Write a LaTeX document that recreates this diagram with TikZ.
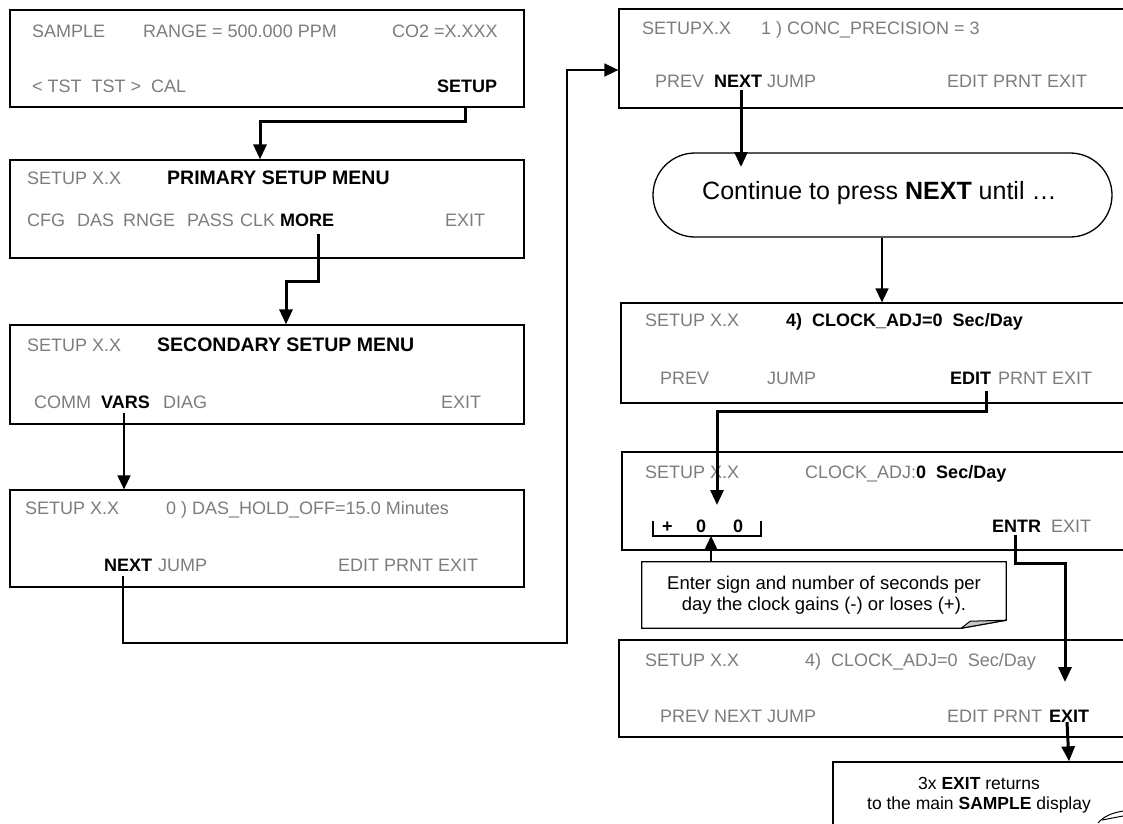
\documentclass[tikz,border=0pt]{standalone}
\usepackage{fontspec}
\setmainfont{Liberation Sans}
\usetikzlibrary{arrows.meta}
\definecolor{lcdgray}{RGB}{125,125,125}
\tikzset{
  disp/.style={draw, line width=1.3pt, inner sep=0pt, rectangle},
  gt/.style={anchor=base west, inner sep=0pt, text=lcdgray, font=\fontsize{18}{21}\selectfont},
  bt/.style={anchor=base west, inner sep=0pt, text=black, font=\fontsize{18}{21}\selectfont\bfseries},
  ht/.style={anchor=base west, inner sep=0pt, text=black, font=\fontsize{19.5}{22}\selectfont\bfseries},
  ct/.style={anchor=base, inner sep=0pt, text=black, font=\fontsize{17.5}{20}\selectfont},
  thk/.style={line width=3pt, -{Triangle[length=15pt,width=13pt]}},
  thn/.style={line width=1.5pt, -{Triangle[length=14pt,width=13pt]}},
}
\begin{document}
\begin{tikzpicture}[x=1pt,y=-1pt]
\useasboundingbox (0,0) rectangle (1123,823);
\fill[white] (0,0) rectangle (1123,823);
\clip (0,0) rectangle (1123,823);

% ---------- display boxes ----------
\node[disp, minimum width=514, minimum height=97] (b1) at (267,58.5) {};
\node[disp, minimum width=514, minimum height=98] (b2) at (267,209) {};
\node[disp, minimum width=514, minimum height=99] (b3) at (267,374.5) {};
\node[disp, minimum width=514, minimum height=97] (b4) at (267,538.5) {};
\node[disp, minimum width=516, minimum height=99] (b5) at (877,58.5) {};
\node[disp, minimum width=514, minimum height=100] (b6) at (878,353) {};
\node[disp, minimum width=513, minimum height=98] (b7) at (878.5,501) {};
\node[disp, minimum width=516, minimum height=97] (b8) at (877,688.5) {};
\node[disp, minimum width=302, minimum height=63] (b9) at (984,793.5) {};

% ---------- box 1 ----------
\node[gt] (t1a) at (32,37.5) {SAMPLE};
\node[gt] (t1b) at (143,37.5) {RANGE = 500.000 PPM};
\node[gt] (t1c) at (392,37.5) {CO2 =X.XXX};
\node[gt] (t1d) at (32,92.5) {< TST\ \ TST >\ \ CAL};
\node[bt] (t1e) at (437,92.5) {SETUP};

% ---------- box 2 ----------
\node[gt] (t2a) at (27,184.5) {SETUP X.X};
\node[ht] (t2b) at (167,184.5) {PRIMARY SETUP MENU};
\node[gt] (t2c) at (27,226.5) {CFG};
\node[gt] (t2d) at (77,226.5) {DAS};
\node[gt] (t2e) at (123,226.5) {RNGE};
\node[gt] (t2f) at (187,226.5) {PASS};
\node[gt] (t2g) at (240,226.5) {CLK};
\node[bt] (t2h) at (280,226.5) {MORE};
\node[gt] (t2i) at (445,226.5) {EXIT};

% ---------- box 3 ----------
\node[gt] (t3a) at (27,351.5) {SETUP X.X};
\node[ht] (t3b) at (157,351.5) {SECONDARY SETUP MENU};
\node[gt] (t3c) at (34,408.5) {COMM};
\node[bt] (t3d) at (101,408.5) {VARS};
\node[gt] (t3e) at (163,408.5) {DIAG};
\node[gt] (t3f) at (441,408.5) {EXIT};

% ---------- box 4 ----------
\node[gt] (t4a) at (25,514.5) {SETUP X.X};
\node[gt] (t4b) at (166,514.5) {0 ) DAS\_HOLD\_OFF=15.0 Minutes};
\node[bt] (t4c) at (104,571.5) {NEXT};
\node[gt] (t4d) at (158,571.5) {JUMP};
\node[gt] (t4e) at (338,571.5) {EDIT PRNT EXIT};

% ---------- box 5 ----------
\node[gt] (t5a) at (642,34.5) {SETUPX.X};
\node[gt] (t5b) at (761,34.5) {1 ) CONC\_PRECISION = 3};
\node[gt] (t5c) at (655,87.5) {PREV};
\node[bt] (t5d) at (714,87.5) {NEXT};
\node[gt] (t5e) at (767,87.5) {JUMP};
\node[gt] (t5f) at (947,87.5) {EDIT PRNT EXIT};

% ---------- oval ----------
\node[draw, line width=1.3pt, rounded corners=42pt, minimum width=459, minimum height=84, inner sep=0pt] (ov) at (882.5,195) {};
\node[anchor=base west, inner sep=0pt, font=\fontsize{25}{29}\selectfont] (tov) at (702,199) {Continue to press \textbf{NEXT} until …};

% ---------- box 6 ----------
\node[gt] (t6a) at (645,326.5) {SETUP X.X};
\node[bt] (t6b) at (786,326.5) {4)\ \ CLOCK\_ADJ=0\ \ Sec/Day};
\node[gt] (t6c) at (660,384.5) {PREV};
\node[gt] (t6d) at (767,384.5) {JUMP};
\node[bt] (t6e) at (950,384.5) {EDIT};
\node[gt] (t6f) at (998,384.5) {PRNT EXIT};

% ---------- box 7 ----------
\node[gt] (t7a) at (645,478.5) {SETUP X.X};
\node[gt] (t7b) at (805,478.5) {CLOCK\_ADJ:\textcolor{black}{\bfseries 0\ \ Sec/Day}};
\node[bt] (t7c) at (662,532.5) {+};
\node[bt] (t7d) at (696,532.5) {0};
\node[bt] (t7e) at (733,532.5) {0};
\node[bt] (t7f) at (992,532.5) {ENTR};
\node[gt] (t7g) at (1051,532.5) {EXIT};
\draw[line width=1.2pt] (653,521) -- (653,536) -- (761,536) -- (761,521);

% ---------- callout ----------
\node[inner sep=0pt, minimum width=364, minimum height=66, align=center,
      font=\fontsize{18.5}{21}\selectfont] (co) at (824,595)
      {Enter sign and number of seconds per\\day the clock gains (-) or loses (+).};
\draw[line width=1.3pt] (co.north west) -- (co.north east) -- ([yshift=8pt]co.south east)
      -- ([xshift=-45pt]co.south east) -- (co.south west) -- cycle;
\filldraw[line width=1pt, fill=gray!45] ([xshift=-45pt]co.south east) -- ([xshift=-36pt,yshift=7pt]co.south east)
      -- ([yshift=8pt]co.south east) -- cycle;

% ---------- box 8 ----------
\node[gt] (t8a) at (645,666.5) {SETUP X.X};
\node[gt] (t8b) at (805,666.5) {4)\ \ CLOCK\_ADJ=0\ \ Sec/Day};
\node[gt] (t8c) at (660,722.5) {PREV NEXT JUMP};
\node[gt] (t8d) at (947,722.5) {EDIT PRNT};
\node[bt] (t8e) at (1049,722.5) {EXIT};

% ---------- box 9 ----------
\node[ct] (t9a) at (979,789) {3x \textbf{EXIT} returns};
\node[ct] (t9b) at (979,809) {to the main \textbf{SAMPLE} display};
\draw[line width=1pt] (1098,823) .. controls (1104,816) and (1112,813) .. (1123,811);
\draw[line width=1pt] (1102,820) -- (1123,816);

% ---------- connectors ----------
\coordinate (s1) at (465,107);
\coordinate (e1) at (260,121);
\draw[thk] (s1) -- (s1 |- e1) -- (e1) -- (e1 |- b2.north);

\coordinate (s2) at (318,234);
\coordinate (e2) at (286,281);
\draw[thk] (s2) -- (s2 |- e2) -- (e2) -- (e2 |- b3.north);

\coordinate (s3) at (124,413);
\draw[thn] (s3) -- (s3 |- b4.north);

\coordinate (s4) at (123,576);
\coordinate (e4a) at (567,643);
\coordinate (e4b) at (567,70);
\draw[thn] (s4) |- (e4a) -- (e4b) -- (e4b -| b5.west);

\coordinate (s5) at (741,90);
\coordinate (e5) at (741,167);
\draw[thk] (s5) -- (e5);

\coordinate (x6) at (882,0);
\draw[thn] (ov.south -| x6) -- (b6.north -| x6);

\coordinate (s7) at (986,391);
\coordinate (e7a) at (717,411);
\coordinate (e7) at (717,505);
\draw[thk] (s7) |- (e7a) -- (e7);

\coordinate (x8) at (711,0);
\coordinate (e8) at (711,536);
\draw[thn] (co.north -| x8) -- (e8);

\coordinate (s9) at (1015,535);
\coordinate (e9a) at (1065,563);
\coordinate (e9) at (1065,682);
\draw[thk] (s9) |- (e9a) -- (e9);

\coordinate (s10) at (1067,722);
\coordinate (x10) at (1069,0);
\draw[thk] (s10) -- (b9.north -| x10);
\end{tikzpicture}
\end{document}
